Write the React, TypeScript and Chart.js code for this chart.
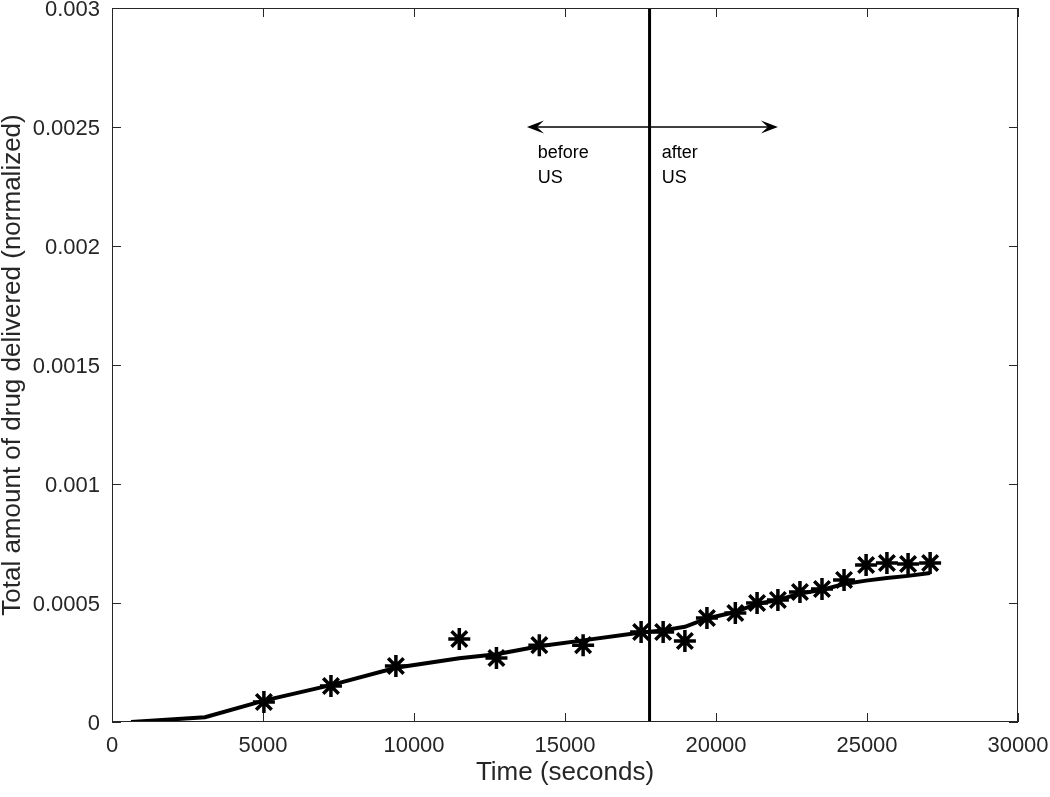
import React, { useEffect, useRef } from 'react';
import { Chart, registerables } from 'chart.js';

Chart.register(...registerables);

// Measured samples (asterisks)
const sampleTimes = [5030, 7250, 9400, 11500, 12730, 14150, 15600, 17520, 18250, 18970, 19700, 20640, 21360, 22050, 22780, 23510, 24240, 24970, 25660, 26360, 27090];
const sampleAmounts = [0.000084, 0.000151, 0.000235, 0.000349, 0.000269, 0.000323, 0.000323, 0.000378, 0.000378, 0.000340, 0.000437, 0.000458, 0.000500, 0.000513, 0.000546, 0.000559, 0.000597, 0.000660, 0.000668, 0.000664, 0.000668];

// Model curve (solid line)
const fitTimes = [630, 3080, 5030, 7250, 9400, 11500, 12730, 14150, 15600, 17520, 18250, 18970, 19700, 20640, 21360, 22050, 22780, 23510, 24240, 24970, 25660, 26360, 27090];
const fitAmounts = [0, 0.00002, 0.00009, 0.000155, 0.000228, 0.000268, 0.000285, 0.000318, 0.000343, 0.000376, 0.000385, 0.000400, 0.000435, 0.000462, 0.000497, 0.000512, 0.000540, 0.000555, 0.000580, 0.000594, 0.000605, 0.000614, 0.000626];

// Ultrasound onset marker
const usTimes = [17800, 17800];
const usAmounts = [0, 0.003];

// Axis ticks
const xTickValues = [0, 5000, 10000, 15000, 20000, 25000, 30000];
const xTickLabels = ['0', '5000', '10000', '15000', '20000', '25000', '30000'];
const yTickValues = [0, 0.0005, 0.001, 0.0015, 0.002, 0.0025, 0.003];
const yTickLabels = ['0', '0.0005', '0.001', '0.0015', '0.002', '0.0025', '0.003'];

// Annotation (double arrow and notes)
const arrowXs = [13740, 22050];
const arrowYValue = 0.0025;
const noteTexts = [['before', 'US'], ['after', 'US']];
const noteXs = [14100, 18200];
const noteLineYs = [0.00239, 0.002286];

const AXIS_COLOR = '#262626';
const FONT = "'Liberation Sans', Arial, sans-serif";

const annotationPlugin = {
  id: 'matlabAxes',
  afterDatasetsDraw(chart: any) {
    const { ctx, chartArea } = chart;
    const xs = chart.scales.x;
    const ys = chart.scales.y;
    const { left, right, top, bottom } = chartArea;
    ctx.save();
    // box
    ctx.strokeStyle = AXIS_COLOR;
    ctx.lineWidth = 1;
    ctx.strokeRect(left + 0.5, top + 0.5, right - left - 1, bottom - top - 1);
    // inward ticks on all four sides
    const tl = 9;
    ctx.beginPath();
    xTickValues.forEach((v) => {
      const px = Math.round(xs.getPixelForValue(v)) + 0.5;
      ctx.moveTo(px, bottom);
      ctx.lineTo(px, bottom - tl);
      ctx.moveTo(px, top);
      ctx.lineTo(px, top + tl);
    });
    yTickValues.forEach((v) => {
      const py = Math.round(ys.getPixelForValue(v)) + 0.5;
      ctx.moveTo(left, py);
      ctx.lineTo(left + tl, py);
      ctx.moveTo(right, py);
      ctx.lineTo(right - tl, py);
    });
    ctx.stroke();

    // double arrow
    const ay = ys.getPixelForValue(arrowYValue);
    const ax0 = xs.getPixelForValue(arrowXs[0]);
    const ax1 = xs.getPixelForValue(arrowXs[1]);
    ctx.strokeStyle = '#000';
    ctx.fillStyle = '#000';
    ctx.lineWidth = 1.3;
    ctx.beginPath();
    ctx.moveTo(ax0 + 8, ay);
    ctx.lineTo(ax1 - 8, ay);
    ctx.stroke();
    const head = (tipX: number, dir: number) => {
      ctx.beginPath();
      ctx.moveTo(tipX, ay);
      ctx.lineTo(tipX + dir * 17, ay - 6.5);
      ctx.lineTo(tipX + dir * 10, ay);
      ctx.lineTo(tipX + dir * 17, ay + 6.5);
      ctx.closePath();
      ctx.fill();
    };
    head(ax0, 1);
    head(ax1, -1);

    // notes
    ctx.font = `18px ${FONT}`;
    ctx.textAlign = 'left';
    ctx.textBaseline = 'middle';
    ctx.fillStyle = '#000';
    noteTexts.forEach((lines, i) => {
      const nx = xs.getPixelForValue(noteXs[i]);
      lines.forEach((t, j) => {
        ctx.fillText(t, nx, ys.getPixelForValue(noteLineYs[j]));
      });
    });
    ctx.restore();
  },
};

export default function App() {
  const canvasRef = useRef<HTMLCanvasElement | null>(null);

  useEffect(() => {
    if (!canvasRef.current) return;
    const samplePts = sampleTimes.map((t, i) => ({ x: t, y: sampleAmounts[i] }));
    const fitPts = fitTimes.map((t, i) => ({ x: t, y: fitAmounts[i] }));
    const usPts = usTimes.map((t, i) => ({ x: t, y: usAmounts[i] }));

    const chart = new Chart(canvasRef.current, {
      type: 'line',
      data: {
        datasets: [
          {
            label: 'model',
            data: fitPts,
            borderColor: '#000',
            borderWidth: 4,
            pointRadius: 0,
            tension: 0,
            fill: false,
          },
          {
            label: 'US',
            data: usPts,
            borderColor: '#000',
            borderWidth: 3,
            pointRadius: 0,
            fill: false,
          },
          {
            label: 'measured',
            data: samplePts,
            showLine: false,
            pointStyle: 'star',
            pointRadius: 11,
            pointBorderWidth: 3.5,
            pointBorderColor: '#000',
            pointBackgroundColor: '#000',
          },
        ],
      },
      options: {
        responsive: false,
        animation: false,
        events: [],
        layout: { autoPadding: false, padding: { top: 8, right: 32, left: 0, bottom: 0 } },
        plugins: {
          legend: { display: false },
          tooltip: { enabled: false },
          title: { display: false },
        },
        scales: {
          x: {
            type: 'linear',
            min: 0,
            max: 30000,
            grid: { display: false, drawTicks: false, tickLength: 0 },
            border: { display: false },
            afterBuildTicks: (scale: any) => {
              scale.ticks = xTickValues.map((v) => ({ value: v }));
            },
            afterFit: (scale: any) => {
              scale.height = 75;
              scale.paddingLeft = 0;
              scale.paddingRight = 0;
            },
            ticks: {
              color: AXIS_COLOR,
              font: { family: FONT, size: 22 },
              padding: 11,
              maxRotation: 0,
              autoSkip: false,
              callback: (_v: any, i: number) => xTickLabels[i],
            },
            title: {
              display: true,
              text: 'Time (seconds)',
              color: AXIS_COLOR,
              font: { family: FONT, size: 26, lineHeight: 1 },
              padding: { top: 0, bottom: 11 },
            },
          },
          y: {
            type: 'linear',
            min: 0,
            max: 0.003,
            grid: { display: false, drawTicks: false, tickLength: 0 },
            border: { display: false },
            afterBuildTicks: (scale: any) => {
              scale.ticks = yTickValues.map((v) => ({ value: v }));
            },
            afterFit: (scale: any) => {
              scale.width = 112;
              scale.paddingTop = 0;
              scale.paddingBottom = 0;
            },
            ticks: {
              color: AXIS_COLOR,
              font: { family: FONT, size: 22 },
              padding: 12,
              labelOffset: 2,
              autoSkip: false,
              callback: (_v: any, i: number) => yTickLabels[i],
            },
            title: {
              display: true,
              text: 'Total amount of drug delivered (normalized)',
              color: AXIS_COLOR,
              font: { family: FONT, size: 26, lineHeight: 1 },
              padding: 0,
            },
          },
        },
      },
      plugins: [annotationPlugin],
    });
    return () => chart.destroy();
  }, []);

  return (
    <div style={{ position: 'absolute', left: 0, top: 0, width: 1050, height: 797, background: '#fff' }}>
      <canvas ref={canvasRef} width={1050} height={797} />
    </div>
  );
}
